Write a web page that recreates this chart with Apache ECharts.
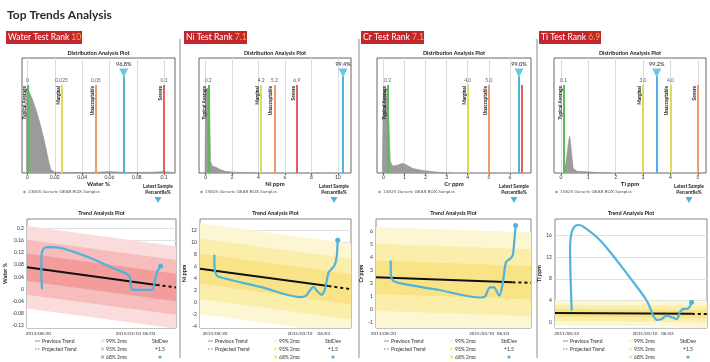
<!DOCTYPE html>
<html>
<head>
<meta charset="utf-8">
<script src="https://cdn.jsdelivr.net/npm/echarts@6/dist/echarts.min.js"></script>
<style>
  html, body { margin: 0; padding: 0; background: #fff; }
  #main { width: 710px; height: 362px; }
</style>
</head>
<body>
<div id="main"></div>
<script>
// ---------- data ----------
const panelNames = ['Water', 'Ni', 'Cr', 'Ti'];
const panelRanks = ['10', '7.1', '7.1', '6.9'];
const unitNames = ['Water %', 'Ni ppm', 'Cr ppm', 'Ti ppm'];
const sampleCounts = ['23805', '15825', '15825', '15825'];
const limitNames = ['Typical Average', 'Marginal', 'Unacceptable', 'Severe'];

// distribution plots
const waterDistTicks = [0, 0.02, 0.04, 0.06, 0.08, 0.1];
const niDistTicks = [0, 2, 4, 6, 8, 10];
const crDistTicks = [0, 1, 2, 3, 4, 5, 6];
const tiDistTicks = [0, 1, 2, 3, 4, 5];

const waterDist = [[-0.0008, 0], [-0.0008, 0.72], [0, 0.74], [0.003, 0.66], [0.006, 0.56], [0.009, 0.44], [0.012, 0.3], [0.015, 0.13], [0.017, 0.03], [0.02, 0.008], [0.03, 0.004], [0.045, 0.004], [0.06, 0.012], [0.075, 0.004], [0.09, 0.006], [0.1, 0.012], [0.107, 0.004]];
const niDist = [[-0.05, 0], [0, 0.72], [0.15, 0.74], [0.3, 0.6], [0.38, 0.1], [0.5, 0.06], [0.8, 0.05], [1.1, 0.03], [1.5, 0.015], [2, 0.008], [3, 0.003], [4, 0]];
const crDist = [[-0.05, 0], [0, 0.7], [0.1, 0.74], [0.25, 0.55], [0.33, 0.1], [0.45, 0.06], [0.7, 0.07], [0.9, 0.085], [1.1, 0.07], [1.4, 0.04], [1.8, 0.025], [2.2, 0.015], [2.7, 0.005], [3.2, 0]];
const tiDist = [[0.12, 0], [0.2, 0.12], [0.3, 0.3], [0.33, 0.32], [0.38, 0.2], [0.45, 0.04], [0.6, 0.015], [1, 0.01], [1.4, 0.003], [1.8, 0]];

const waterLimits = [0, 0.025, 0.05, 0.1];
const niLimits = [0.2, 4.2, 5.2, 6.9];
const crLimits = [0.2, 4.0, 5.0, 6.55];
const tiLimits = [0.1, 3.0, 4.0, 5.0];
const waterLimitLabels = ['0', '0.025', '0.05', '0.1'];
const niLimitLabels = ['0.2', '4.2', '5.2', '6.9'];
const crLimitLabels = ['0.2', '4.0', '5.0', ''];
const tiLimitLabels = ['0.1', '3.0', '4.0', ''];
const latestValues = [0.0705, 10.4, 6.43, 3.5];
const latestLabels = ['96.8%', '99.4%', '99.0%', '99.2%'];

// trend plots
const waterTrendTicks = [-0.12, -0.08, -0.04, 0, 0.04, 0.08, 0.12, 0.16, 0.2];
const niTrendTicks = [-4, -2, 0, 2, 4, 6, 8, 10, 12];
const crTrendTicks = [-1, 0, 1, 2, 3, 4, 5, 6];
const tiTrendTicks = [0, 4, 8, 12, 16];

const waterTrend = [[10.1, 0.0], [9.6, 0.06], [9.7, 0.11], [11, 0.132], [14, 0.138], [20, 0.137], [40, 0.107], [58, 0.069], [67, 0.05], [69.2, 0.037], [69.8, 0.005], [71.3, -0.002], [83.7, -0.002], [85.9, 0.031], [87.4, 0.058], [89.7, 0.075]];
const niTrend = [[9.5, 7.9], [9.6, 6.2], [10, 5.1], [12, 4.3], [40, 2.6], [67, 0.9], [70, 1.1], [72.5, 1.9], [75, 2.6], [77.5, 1.9], [80.5, 1.3], [82.5, 2.0], [84, 3.7], [85.2, 5.0], [87, 5.5], [89, 6.1], [90.5, 7.5], [91.2, 10.3]];
const crTrend = [[9.5, 3.78], [9.6, 2.7], [11.2, 2.2], [17.6, 1.96], [40, 1.5], [67.1, 0.9], [70.3, 0.98], [73.5, 1.69], [76.1, 1.69], [79.5, 1.04], [81.7, 1.96], [83.9, 3.65], [86.5, 3.9], [88.2, 4.17], [89, 4.96], [90.1, 6.5]];
const tiTrend = [[11, 2.14], [10.3, 7.7], [9.9, 13.9], [11, 16.6], [13.2, 17.7], [15.3, 17.9], [18.6, 17.6], [29.6, 15.1], [40.6, 11.4], [51.5, 7.4], [60.3, 4.0], [64.7, 1.22], [66.9, 0.43], [70.2, 0.6], [73.5, 1.22], [76.8, 0.92], [80.1, 0.6], [82.2, 1.85], [84.4, 2.46], [86.6, 2.46], [88.4, 2.77], [89.9, 3.7]];

const waterPrev = [[0, 0.072], [87, 0.014]];
const waterProj = [[87, 0.014], [100, 0.006]];
const niPrev = [[0, 5.6], [85, 2.73]];
const niProj = [[85, 2.73], [100, 2.22]];
const crPrev = [[0, 2.47], [88, 2.08]];
const crProj = [[88, 2.08], [100, 2.05]];
const tiPrev = [[0, 1.72], [90, 1.55]];
const tiProj = [[90, 1.55], [100, 1.53]];

// 68%, 95%, 99% band half widths
const waterBands = [0.045, 0.09, 0.135];
const niBands = [2.5, 5, 7.5];
const crBands = [1.3, 2.6, 3.9];
const tiBands = [0.75, 1.5, 2.3];

const waterDatePos = [7.6, 68, 82];
const niDatePos = [9.9, 66.2, 82];
const crDatePos = [4.7, 68.2, 82];
const tiDatePos = [7.7, 59.2, 74];
const waterDates = ['2013/08/20', '2015/03/10', '06/03'];
const niDates = ['2013/08/20', '2015/03/10', '06/03'];
const crDates = ['2013/08/20', '2015/03/10', '06/03'];
const tiDates = ['2011/08/22', '2015/03/10', '06/03'];

const bandLegend = ['99% 2mo', '95% 2mo', '68% 2mo'];

// ---------- styling / layout ----------
const FONT = 'Lato';
const GREEN = '#55be55', YELLOW = '#dcdc5a', ORANGE = '#f09a68', RED = '#e0615a', BLUE = '#4fb3dc';
const redShades = ['#fbdcdc', '#f7bcbc', '#f29c9c'];     // light, medium, dark
const yellowShades = ['#fdf6d2', '#fbeeaa', '#f8e487'];

const distLeft = [22, 199, 377, 554];
const distWidth = [153, 152, 154, 152];
const trendLeft = [27, 200, 376, 555];
const trendWidth = [149, 151, 155, 152];
const headerX = [6, 184, 361, 539];
const headerW = [76, 63, 63, 62];
const dividerX = [180, 359, 537];
const yNameGap = [16, 10, 9, 9];

const panels = [
  { dist: waterDist, ticks: waterDistTicks, range: [-0.004, 0.108], limits: waterLimits, limitLabels: waterLimitLabels,
    colors: [GREEN, YELLOW, ORANGE, RED], names: limitNames,
    trend: waterTrend, tTicks: waterTrendTicks, tRange: [-0.127, 0.23], prev: waterPrev, proj: waterProj,
    bands: waterBands, shades: redShades, dates: waterDates, datePos: waterDatePos },
  { dist: niDist, ticks: niDistTicks, range: [-0.5, 11], limits: niLimits, limitLabels: niLimitLabels,
    colors: [GREEN, YELLOW, ORANGE, RED], names: limitNames,
    trend: niTrend, tTicks: niTrendTicks, tRange: [-4.2, 13.8], prev: niPrev, proj: niProj,
    bands: niBands, shades: yellowShades, dates: niDates, datePos: niDatePos },
  { dist: crDist, ticks: crDistTicks, range: [-0.3, 7], limits: crLimits, limitLabels: crLimitLabels,
    colors: [GREEN, YELLOW, ORANGE, RED], names: ['Typical Average', 'Marginal', 'Unacceptable', ''],
    trend: crTrend, tTicks: crTrendTicks, tRange: [-1.47, 7], prev: crPrev, proj: crProj,
    bands: crBands, shades: yellowShades, dates: crDates, datePos: crDatePos },
  { dist: tiDist, ticks: tiDistTicks, range: [-0.25, 5.3], limits: tiLimits, limitLabels: tiLimitLabels,
    colors: [GREEN, YELLOW, YELLOW, ORANGE], names: limitNames,
    trend: tiTrend, tTicks: tiTrendTicks, tRange: [-1.05, 19], prev: tiPrev, proj: tiProj,
    bands: tiBands, shades: yellowShades, dates: tiDates, datePos: tiDatePos }
];

function txt(x, y, text, size, o) {
  o = o || {};
  const align = o.align || 'left';
  return {
    type: 'text', x: x, y: y, silent: true, z: 10,
    style: {
      text: text, fill: o.color || '#333',
      font: (o.bold ? 'bold ' : '') + size + 'px ' + FONT,
      textAlign: align, align: align,
      textVerticalAlign: 'middle', verticalAlign: 'middle',
      lineHeight: o.lineHeight
    }
  };
}
const fmt = v => String(+v.toFixed(3));

const grid = [], xAxis = [], yAxis = [], series = [];
const graphic = [];

graphic.push(txt(7, 15, 'Top Trends Analysis', 12, { bold: true, color: '#2b2b2b' }));
dividerX.forEach(x => graphic.push({ type: 'line', silent: true,
  shape: { x1: x, y1: 39, x2: x, y2: 358 }, style: { stroke: '#8a8a8a', lineWidth: 1 } }));

panels.forEach((p, i) => {
  const dg = i * 2, tg = i * 2 + 1;
  const dl = distLeft[i], dw = distWidth[i];
  const tl = trendLeft[i], tw = trendWidth[i];

  // header
  graphic.push({ type: 'rect', silent: true, shape: { x: headerX[i], y: 31, width: headerW[i], height: 13 },
    style: { fill: '#c1272d' } });
  graphic.push({
    type: 'text', x: headerX[i] + 2, y: 37.5, silent: true, z: 10,
    style: {
      text: '{a|' + panelNames[i] + ' Test Rank }{b|' + panelRanks[i] + '}',
      font: '8.5px ' + FONT, textVerticalAlign: 'middle', verticalAlign: 'middle',
      rich: { a: { fill: '#fff', color: '#fff', font: '8.5px ' + FONT }, b: { fill: '#f6b23a', color: '#f6b23a', font: '8.5px ' + FONT } }
    }
  });

  // ---- distribution plot ----
  graphic.push(txt(dl + dw / 2, 53, 'Distribution Analysis Plot', 5.5, { bold: true, align: 'center', color: '#222' }));
  grid.push({ left: dl, top: 58, width: dw, height: 115, show: true, borderColor: '#666', borderWidth: 1, backgroundColor: '#fff' });
  xAxis.push({
    type: 'value', gridIndex: dg, min: p.range[0], max: p.range[1],
    name: unitNames[i], nameLocation: 'middle', nameGap: 7,
    nameTextStyle: { fontFamily: FONT, fontSize: 6, fontWeight: 'bold', color: '#222' },
    axisLine: { show: false },
    axisTick: { show: true, length: 2, customValues: p.ticks, lineStyle: { color: '#666' } },
    axisLabel: { customValues: p.ticks, formatter: fmt, fontFamily: FONT, fontSize: 5, color: '#333', margin: 2 },
    splitLine: { show: true, lineStyle: { color: '#d6dde2', width: 1 } }
  });
  yAxis.push({ type: 'value', gridIndex: dg, min: 0, max: 1, show: false, splitLine: { show: false } });

  const lineItems = p.limits.map((v, k) => [
    { name: p.names[k], coord: [v, 0], lineStyle: { color: p.colors[k], width: 2, type: 'solid' } },
    { coord: [v, 0.765] }
  ]);
  lineItems.push([
    { name: '', coord: [latestValues[i], 0], lineStyle: { color: BLUE, width: 2, type: 'solid' }, label: { show: false } },
    { coord: [latestValues[i], 0.84] }
  ]);
  series.push({
    type: 'line', xAxisIndex: dg, yAxisIndex: dg, data: p.dist, symbol: 'none', silent: true,
    lineStyle: { color: '#8c8c8c', width: 0.5 }, areaStyle: { color: '#9b9b9b', opacity: 1 },
    markLine: {
      silent: true, symbol: ['none', 'none'], animation: false,
      label: { show: true, position: 'insideEndTop', formatter: '{b}', distance: 1,
        fontFamily: FONT, fontSize: 4.8, fontWeight: 'bold', color: '#222' },
      emphasis: { disabled: true },
      data: lineItems
    }
  });
  series.push({
    type: 'scatter', xAxisIndex: dg, yAxisIndex: dg, symbolSize: 0, silent: true,
    data: p.limits.map((v, k) => ({ value: [v, 0.765], name: p.limitLabels[k] })),
    label: { show: true, position: 'top', distance: 2, formatter: '{b}', fontFamily: FONT, fontSize: 5, color: '#333' }
  });
  series.push({
    type: 'scatter', xAxisIndex: dg, yAxisIndex: dg, silent: true, z: 5,
    symbol: 'triangle', symbolRotate: 180, symbolSize: [9, 9], itemStyle: { color: BLUE },
    data: [{ value: [latestValues[i], 0.87], name: latestLabels[i] }],
    label: { show: true, position: 'top', distance: 1, formatter: '{b}', fontFamily: FONT, fontSize: 5.5, fontWeight: 'bold', color: '#222' }
  });

  // dist footer texts
  graphic.push({ type: 'circle', silent: true, shape: { cx: dl + 2.5, cy: 192, r: 1.3 }, style: { fill: '#9b9b9b' } });
  graphic.push(txt(dl + 6, 192, sampleCounts[i] + ' Generic GEAR BOX Samples', 4.6, { color: '#555' }));
  const lx = dl + dw - 17;
  graphic.push(txt(lx, 189, 'Latest Sample\nPercentile%', 4.8, { bold: true, align: 'center', color: '#222', lineHeight: 6 }));
  graphic.push({ type: 'polygon', silent: true,
    shape: { points: [[lx - 3.5, 197], [lx + 3.5, 197], [lx, 203]] }, style: { fill: BLUE } });

  // ---- trend plot ----
  graphic.push(txt(tl + tw / 2, 213, 'Trend Analysis Plot', 5.5, { bold: true, align: 'center', color: '#222' }));
  grid.push({ left: tl, top: 219, width: tw, height: 109, show: true, borderColor: '#888', borderWidth: 1, backgroundColor: '#fff' });
  xAxis.push({
    type: 'value', gridIndex: tg, min: 0, max: 100,
    axisLine: { show: false }, axisTick: { show: false, customValues: p.datePos },
    axisLabel: { customValues: p.datePos, formatter: v => p.dates[p.datePos.indexOf(v)] || '',
      fontFamily: FONT, fontSize: 4.5, color: '#333', margin: 3 },
    splitLine: { show: false }
  });
  yAxis.push({
    type: 'value', gridIndex: tg, min: p.tRange[0], max: p.tRange[1],
    name: unitNames[i], nameLocation: 'middle', nameGap: yNameGap[i], nameRotate: 90,
    nameTextStyle: { fontFamily: FONT, fontSize: 5.5, fontWeight: 'bold', color: '#222' },
    axisLine: { show: false }, axisTick: { show: false, customValues: p.tTicks },
    axisLabel: { customValues: p.tTicks, formatter: fmt, fontFamily: FONT, fontSize: 5, color: '#333', margin: 3 },
    splitLine: { show: true, lineStyle: { color: '#e2e2e2' } }
  });

  // confidence bands, painted from the top edge down
  const c0 = p.prev[0][1], c1 = p.proj[p.proj.length - 1][1];
  const b = p.bands;
  const edges = [[b[2], p.shades[0]], [b[1], p.shades[1]], [b[0], p.shades[2]],
                 [-b[0], p.shades[1]], [-b[1], p.shades[0]], [-b[2], '#ffffff']];
  edges.forEach(([off, col]) => {
    series.push({
      type: 'line', xAxisIndex: tg, yAxisIndex: tg, symbol: 'none', silent: true,
      data: [[0, c0 + off], [100, c1 + off]],
      lineStyle: { width: 0, opacity: 0 },
      areaStyle: { color: col, opacity: 1, origin: 'start' }
    });
  });
  series.push({
    type: 'line', xAxisIndex: tg, yAxisIndex: tg, symbol: 'none', silent: true, z: 4,
    data: p.prev, lineStyle: { color: '#111', width: 2 }
  });
  series.push({
    type: 'line', xAxisIndex: tg, yAxisIndex: tg, symbol: 'none', silent: true, z: 4,
    data: p.proj, lineStyle: { color: '#111', width: 2, type: [3, 3] }
  });
  series.push({
    type: 'line', xAxisIndex: tg, yAxisIndex: tg, silent: true, z: 5,
    data: p.trend, smooth: 0.3,
    symbol: (val, params) => params.dataIndex === p.trend.length - 1 ? 'circle' : 'none',
    symbolSize: 5, showSymbol: true,
    itemStyle: { color: BLUE }, lineStyle: { color: BLUE, width: 2.2 }
  });

  // trend legend
  const rows = [341, 349, 357];
  graphic.push({ type: 'line', silent: true, shape: { x1: tl + 8, y1: rows[0], x2: tl + 13, y2: rows[0] },
    style: { stroke: '#6f9bc8', lineWidth: 1 } });
  graphic.push({ type: 'line', silent: true, shape: { x1: tl + 8, y1: rows[1], x2: tl + 13, y2: rows[1] },
    style: { stroke: '#777', lineWidth: 1, lineDash: [1.5, 1.5] } });
  graphic.push(txt(tl + 15, rows[0], 'Previous Trend', 5, { color: '#333' }));
  graphic.push(txt(tl + 15, rows[1], 'Projected Trend', 5, { color: '#333' }));
  bandLegend.forEach((t, k) => {
    graphic.push({ type: 'rect', silent: true, shape: { x: tl + 74, y: rows[k] - 1.5, width: 3, height: 3 },
      style: { fill: p.shades[k] } });
    graphic.push(txt(tl + 79, rows[k], t, 5, { color: '#333' }));
  });
  graphic.push(txt(tl + 133, rows[0], 'StdDev', 5, { align: 'center', color: '#333' }));
  graphic.push(txt(tl + 133, rows[1], '+1.5', 5, { align: 'center', color: '#333' }));
  graphic.push({ type: 'circle', silent: true, shape: { cx: tl + 133, cy: rows[2], r: 1.6 }, style: { fill: BLUE } });
});

const chart = echarts.init(document.getElementById('main'));
chart.setOption({
  animation: false,
  backgroundColor: '#fff',
  textStyle: { fontFamily: FONT },
  grid: grid,
  xAxis: xAxis,
  yAxis: yAxis,
  series: series,
  graphic: graphic
});
</script>
</body>
</html>
